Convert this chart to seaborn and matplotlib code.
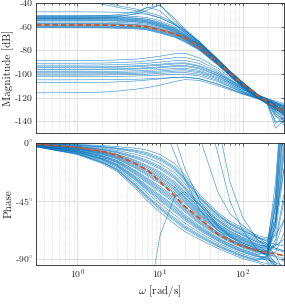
import numpy as np
import pandas as pd
import matplotlib
matplotlib.use("Agg")
import matplotlib.pyplot as plt
import seaborn as sns
from matplotlib.ticker import FixedLocator, NullFormatter

# ---------------- data ----------------
W = [0.316, 1, 2, 3, 5, 7, 10, 15, 20, 30, 50, 70, 100, 150, 200, 250, 316]

mag_nominal = [-58.5, -58.5, -58.6, -58.8, -59.3, -60.2, -62.8, -66, -69.5, -77, -90, -99.5, -108.5, -118, -123.5, -128, -132]

mag_upper = [
    [-47.5, -47.5, -47.6, -47.8, -48.4, -49.6, -52.5, -58, -63.5, -73, -87.5, -97.5, -107, -117, -122.5, -125, -128],
    [-50.5, -50.5, -50.6, -50.8, -51.4, -52.4, -55, -60, -65, -74, -88.5, -98.5, -107.5, -117.5, -123, -127, -131],
    [-51.5, -51.5, -51.6, -51.9, -52.5, -53.6, -56.3, -61, -66, -74.5, -88.5, -98.5, -108, -117.5, -123, -129, -135],
    [-52, -52, -52.1, -52.4, -53, -54.1, -57, -61.5, -66.5, -75, -89, -99, -108, -118, -124, -134, -138],
    [-52.5, -52.5, -52.6, -52.9, -53.6, -54.8, -57.6, -62, -67, -75.5, -89, -99, -108.5, -118, -125, -142, -137],
    [-53, -53, -53.1, -53.4, -54, -55.2, -58, -62.5, -67.5, -75.5, -89.5, -99, -108.5, -117.5, -122, -124.5, -127],
    [-53.5, -53.5, -53.6, -53.9, -54.6, -55.8, -58.6, -63, -68, -76, -89.5, -99.5, -108.5, -118.5, -124, -129, -133],
    [-54, -54, -54.1, -54.4, -55, -56.2, -59, -63.5, -68, -76, -90, -99.5, -109, -118, -123, -127, -131],
    [-54.5, -54.5, -54.6, -54.9, -55.6, -56.8, -59.5, -64, -68.5, -76.5, -90, -99.5, -109, -118.5, -126, -146, -139],
    [-55, -55, -55.1, -55.4, -56, -57.2, -60, -64.5, -69, -77, -90.5, -100, -109, -118, -123.5, -128, -132],
    [-56, -56, -56.1, -56.4, -57, -58.1, -60.8, -65, -69.5, -77, -90.5, -100, -109.5, -119, -125, -132, -136],
    [-57, -57, -57.1, -57.4, -58, -59, -61.7, -65.5, -70, -77.5, -90.5, -100, -109.5, -118.5, -123, -126, -129],
    [-57.5, -57.5, -57.6, -57.9, -58.5, -59.5, -62.2, -66, -70, -77.5, -91, -100.5, -110, -119, -124, -130, -134],
    [-58, -58, -58.1, -58.4, -59, -60, -62.6, -66.5, -70.5, -78, -91, -100.5, -110, -119.5, -126, -140, -141],
    [-59, -59, -59.1, -59.4, -59.9, -60.9, -63.4, -67, -71, -78.5, -91.5, -100.5, -110, -119, -124, -128, -132],
    [-59.5, -59.5, -59.6, -59.9, -60.4, -61.4, -64, -67.5, -71.5, -79, -91.5, -101, -110.5, -119.5, -124.5, -129, -133],
    [-60, -60, -60.1, -60.4, -60.9, -61.9, -64.5, -68, -72, -79, -92, -101, -111, -120, -125, -131, -135],
    [-60.5, -60.5, -60.6, -60.9, -61.4, -62.4, -65, -68.5, -72.5, -79.5, -92, -101.5, -111, -120, -124, -127, -130],
    [-61, -61, -61.1, -61.4, -61.9, -62.9, -65.5, -69, -73, -80, -92.5, -101.5, -111.5, -120.5, -125.5, -136, -139],
    [-52, -52, -51.8, -51.3, -49.5, -46, -41.5, -55, -63, -73.5, -88, -98, -107.5, -117.5, -123, -127, -131],
    [-53, -53, -52.7, -52, -49, -43.5, -46.5, -58, -65, -74.5, -88.5, -98.5, -108, -118, -124, -130, -134],
    [-51, -51, -50.7, -50, -47.5, -44, -42, -53, -62, -73, -88, -98, -107.5, -117, -122.5, -126, -129],
    [-30, -35.5, -39.5, -42, -45, -47.5, -51, -57, -63, -72.5, -87.5, -97.5, -107, -117, -123, -127, -131],
    [-33, -37.5, -41, -43.5, -46.5, -49, -52.5, -58.5, -64, -73.5, -88, -98, -107.5, -117.5, -123.5, -128, -132],
]

mag_lower = [
    [-88.7, -88.7, -88.5, -88.2, -87.5, -86.5, -85, -83, -82.5, -86.5, -95, -103, -110, -117.5, -121, -124, -127],
    [-91, -91, -90.8, -90.5, -89.8, -89, -87.8, -86.3, -86, -89, -97, -104.5, -111, -118, -121.5, -125, -128],
    [-92.6, -92.6, -92.4, -92.2, -91.6, -91, -90, -88.8, -88.6, -91.2, -98.5, -105, -111.5, -118, -121, -123, -125],
    [-94, -94, -93.9, -93.7, -93.2, -92.6, -91.8, -90.8, -90.6, -93, -99.5, -105.5, -112, -118.5, -122, -128, -135],
    [-94.6, -94.6, -94.5, -94.3, -93.9, -93.4, -92.6, -91.6, -91.4, -93.6, -100, -106, -112.5, -119, -123, -131, -138],
    [-96, -96, -95.9, -95.7, -95.3, -94.8, -94, -93, -92.8, -94.8, -101, -107, -113, -119, -121.5, -124, -126],
    [-96.6, -96.6, -96.5, -96.3, -95.9, -95.5, -94.8, -93.8, -93.6, -95.6, -101.5, -107, -113, -119, -122.5, -127, -131],
    [-98, -98, -97.9, -97.8, -97.4, -97, -96.3, -95.4, -95.2, -97, -102.5, -108, -114, -119.5, -122, -126, -129],
    [-99, -99, -98.9, -98.8, -98.5, -98.1, -97.5, -96.6, -96.4, -98, -103.5, -108.5, -114.5, -120, -123.5, -133, -140],
    [-100, -100, -99.9, -99.8, -99.5, -99.1, -98.5, -97.7, -97.5, -99, -104.5, -109.5, -115, -120, -122.5, -125.5, -128],
    [-101, -101, -100.9, -100.8, -100.5, -100.2, -99.6, -98.9, -98.8, -100.3, -105.5, -110.5, -115.5, -120.5, -124, -130, -134],
    [-102.3, -102.3, -102.2, -102.1, -101.8, -101.5, -101, -100.3, -100.2, -101.7, -106.5, -111, -116, -120.5, -123, -127, -130],
    [-105, -105, -104.9, -104.8, -104.5, -104.2, -103.7, -103, -102.8, -104.2, -108.5, -112.5, -117, -121, -124.5, -135, -143],
    [-107.4, -107.4, -107.2, -106.8, -106, -105.2, -104.2, -103, -102.6, -104, -108.5, -112.5, -116.5, -120, -122, -125, -127],
    [-116, -115.9, -115.4, -114.6, -113, -111.6, -109.5, -106.5, -104.8, -105.5, -110, -113.5, -117, -120.5, -122.5, -128, -133],
]

phase_nominal = [-0.8, -3.4, -6.5, -9.5, -16, -21, -30, -41, -49.5, -58.5, -71, -76, -80.5, -83.5, -85.5, -86.5, -87.5]

phase_samples = [
    [-0.3, -1, -2, -2.8, -4, -5.5, -9, -16, -25, -40, -54, -61, -66, -72, -74, -60, -20],
    [-0.4, -1.4, -2.7, -3.8, -5.6, -7.5, -11.3, -18.4, -27.2, -41.8, -55.4, -62.3, -67.2, -73, -77, -79, -80],
    [-0.6, -1.8, -3.4, -4.7, -7.1, -9.5, -13.5, -20.7, -29.4, -43.5, -56.8, -63.5, -68.4, -74.1, -76, -40, 60],
    [-0.7, -2.2, -4.1, -5.7, -8.7, -11.4, -15.8, -23, -31.6, -45.3, -58.2, -64.8, -69.6, -75.2, -80, -88, -100],
    [-0.8, -2.6, -4.8, -6.6, -10.2, -13.4, -18, -25.4, -33.8, -47, -59.6, -66, -70.8, -76.2, -78, -50, 30],
    [-1, -3, -5.5, -7.6, -11.8, -15.4, -20.3, -27.8, -36, -48.8, -61, -67.3, -72, -77.3, -81, -83, -85],
    [-1.1, -3.4, -6.2, -8.6, -13.3, -17.4, -22.5, -30.1, -38.2, -50.5, -62.4, -68.5, -73.2, -78.3, -82, -65, -10],
    [-1.2, -3.8, -6.9, -9.5, -14.9, -19.3, -24.8, -32.5, -40.4, -52.3, -63.8, -69.8, -74.4, -79.4, -85, -95, -110],
    [-1.4, -4.2, -7.6, -10.5, -16.4, -21.3, -27, -34.8, -42.6, -54, -65.2, -71, -75.6, -80.4, -80, -30, 60],
    [-1.5, -4.6, -8.3, -11.4, -18, -23.3, -29.3, -37.2, -44.8, -55.8, -66.6, -72.3, -76.8, -81.5, -84, -80, -60],
    [-1.7, -5, -9, -12.4, -19.5, -25.3, -31.5, -39.5, -47, -57.5, -68, -73.5, -78, -82.5, -84, -70, -20],
    [-1.8, -5.4, -9.7, -13.4, -21.1, -27.2, -33.8, -41.9, -49.2, -59.3, -69.4, -74.8, -79.2, -83.6, -88, -96, -108],
    [-1.9, -5.8, -10.4, -14.3, -22.6, -29.2, -36, -44.2, -51.4, -61, -70.8, -76, -80.4, -84.6, -84, -55, 20],
    [-2.1, -6.2, -11.1, -15.3, -24.2, -31.2, -38.3, -46.6, -53.6, -62.8, -72.2, -77.3, -81.6, -85.7, -87, -88, -90],
    [-2.2, -6.6, -11.8, -16.2, -25.7, -33.2, -40.5, -48.9, -55.8, -64.5, -73.6, -78.5, -82.8, -86.7, -86, -62, 0],
    [-2.3, -7, -12.5, -17.2, -27.3, -35.1, -42.8, -51.3, -58, -66.3, -75, -79.8, -84, -87.8, -92, -101, -115],
    [-2.5, -7.4, -13.2, -18.2, -28.8, -37.1, -45, -53.6, -60.2, -68, -76.4, -81, -85.2, -88.8, -88, -75, -40],
    [-2.6, -7.8, -13.9, -19.1, -30.4, -39.1, -47.3, -56, -62.4, -69.8, -77.8, -82.3, -86.4, -89.9, -91, -93, -96],
    [-2.7, -8.2, -14.6, -20.1, -31.9, -41.1, -49.5, -58.3, -64.6, -71.5, -79.2, -83.5, -87.6, -90.9, -88, -45, 40],
    [-2.9, -8.6, -15.3, -21, -33.5, -43, -51.8, -60.7, -66.8, -73.3, -80.6, -84.8, -88.8, -92, -94, -100, -112],
    [-3, -9, -16, -22, -35, -45, -54, -63, -69, -75, -82, -86, -90, -93, -96, -104, -120],
    [-1.3, -4, -7.2, -10, -15.5, -20.5, -26, -34, -42, -53, -64.5, -70.5, -75, -80, -83, -60, 10],
    [-1.6, -4.8, -8.6, -11.9, -18.8, -24.3, -30.5, -38.5, -46, -56.5, -67.5, -73, -77.5, -82, -86, -89, -92],
    [-2, -6, -10.8, -14.8, -23.4, -30.2, -37.2, -45.4, -52.5, -62, -71.5, -76.5, -81, -85, -86, -78, -45],
    [-1.2, -3.6, -6.5, -9, -14, -18.3, -23.6, -31.3, -39.3, -51.4, -63, -69, -73.8, -79, -81, -50, 40],
    [-2.4, -7.2, -12.8, -17.7, -28, -36, -44, -52.5, -59, -67, -75.7, -80.4, -84.6, -88.3, -90, -97, -105],
    [-0.5, -1.6, -3, -4.2, -6.3, -8.5, -12.4, -19.5, -28.3, -42.6, -56, -63, -68, -73.5, -75, -72, -60],
    [-0.9, -2.8, -5.1, -7.1, -11, -14.4, -19.2, -26.6, -35, -48, -60.3, -66.7, -71.4, -77, -79, -82, -84],
    [-1.9, -5.6, -10, -13.8, -21.8, -28.2, -35, -43, -50.3, -60, -70, -75.5, -79.8, -84, -85, -66, -5],
    [-2.2, -6.8, -12.1, -16.7, -26.5, -34.2, -41.6, -50, -57, -65.4, -74.3, -79, -83.4, -87.2, -90, -95, -103],
    [-2.8, -8.4, -15, -20.5, -32.7, -42, -50.7, -59.5, -65.7, -72.4, -80, -84, -88, -91.5, -89, -60, 20],
    [-1.5, -4.4, -8, -11, -17.2, -22.3, -28.2, -36, -43.7, -54.9, -66, -71.6, -76, -81, -82, -80, -75],
    [90, 90, 90, 88, 80, 55, 20, -8, -28, -52, -68, -75, -80, -84, -86, -85, -70],
    [150, 150, 150, 150, 148, 140, 120, 70, 40, 5, -38, -55, -64, -73, -79, -82, -84],
    [160, 160, 160, 160, 158, 155, 150, 120, 90, 45, -8, -45, -68, -83, -88, -100, -115],
    [100, 100, 100, 98, 92, 75, 40, 5, -20, -45, -64, -72, -78, -83, -85, -40, 50],
    [170, 170, 170, 170, 168, 165, 160, 140, 110, 60, 15, -30, -58, -75, -82, -86, -88],
    [-200, -200, -200, -200, -190, -130, -72, -42, -38, -48, -65, -73, -79, -84, -87, -93, -104],
]

mag_ticks = [-140, -120, -100, -80, -60, -40]
mag_ticklabels = ["-140", "-120", "-100", "-80", "-60", "-40"]
phase_ticks = [-90, -45, 0]
phase_ticklabels = [r"-90$\!^\circ$", r"-45$\!^\circ$", r"0$\!^\circ$"]
x_ticks = [1, 10, 100]
x_ticklabels = [r"$10^0$", r"$10^1$", r"$10^2$"]

# ---------------- tables ----------------
rows = []
for i, s in enumerate(mag_upper + mag_lower):
    for w, v in zip(W, s):
        rows.append((i, w, v))
df_mag = pd.DataFrame(rows, columns=["sample", "w", "mag"])
rows = []
for i, s in enumerate(phase_samples):
    for w, v in zip(W, s):
        rows.append((i, w, v))
df_ph = pd.DataFrame(rows, columns=["sample", "w", "phase"])
df_nom = pd.DataFrame({"w": W, "mag": mag_nominal, "phase": phase_nominal})

# ---------------- style ----------------
sns.set_style("white")
plt.rcParams["font.family"] = ["cmr10", "DejaVu Serif"]
plt.rcParams["mathtext.fontset"] = "cm"
plt.rcParams["axes.unicode_minus"] = False
plt.rcParams["axes.formatter.use_mathtext"] = True

BLUE = "#0072BD"
ORANGE = "#D95319"

fig = plt.figure(figsize=(2.85, 3.04), dpi=100)
ax1 = fig.add_axes([36 / 285, 1 - 133 / 304, 248 / 285, 130 / 304])
ax2 = fig.add_axes([36 / 285, 1 - 265 / 304, 248 / 285, 122 / 304])

sns.lineplot(data=df_mag, x="w", y="mag", units="sample", estimator=None,
             color=BLUE, lw=0.45, alpha=0.75, ax=ax1, legend=False)
sns.lineplot(data=df_nom, x="w", y="mag", color=ORANGE, lw=1.3, ax=ax1, legend=False)
sns.lineplot(data=df_ph, x="w", y="phase", units="sample", estimator=None,
             color=BLUE, lw=0.45, alpha=0.75, ax=ax2, legend=False)
sns.lineplot(data=df_nom, x="w", y="phase", color=ORANGE, lw=1.3, ax=ax2, legend=False)
for ax in (ax1, ax2):
    ax.lines[-1].set_dashes((3, 1.6))

for ax in (ax1, ax2):
    ax.set_xscale("log")
    ax.set_xlim(10 ** -0.5, 10 ** 2.5)
    ax.xaxis.set_major_locator(FixedLocator(x_ticks))
    minors = [m * 10.0 ** e for e in (-1, 0, 1, 2) for m in range(2, 10)]
    ax.xaxis.set_minor_locator(FixedLocator(minors))
    ax.xaxis.set_minor_formatter(NullFormatter())
    ax.grid(True, which="major", color="#D9D9D9", lw=0.6, ls="-")
    ax.grid(True, which="minor", axis="x", color="#C4C4C4", lw=0.5, ls=(0, (1, 2)))
    ax.tick_params(which="both", direction="in", top=True, right=True,
                   labelsize=7, pad=2, width=0.5, color="#262626")
    ax.tick_params(which="major", length=2.5)
    ax.tick_params(which="minor", length=1.5)
    for sp in ax.spines.values():
        sp.set_color("#262626")
        sp.set_linewidth(0.6)
    ax.set_axisbelow(True)

ax1.set_ylim(-150, -40)
ax1.set_yticks(mag_ticks)
ax1.set_yticklabels(mag_ticklabels)
ax1.set_xticklabels([])
ax1.set_xlabel("")
ax1.set_ylabel("Magnitude [dB]", fontsize=8, labelpad=1)

ax2.set_ylim(-95, 0)
ax2.set_yticks(phase_ticks)
ax2.set_yticklabels(phase_ticklabels)
ax2.set_xticklabels(x_ticklabels)
ax2.set_xlabel(r"$\omega$ [rad/s]", fontsize=8, labelpad=1)
ax2.set_ylabel("Phase", fontsize=8, labelpad=1)

fig.savefig("out.png", dpi=100)
